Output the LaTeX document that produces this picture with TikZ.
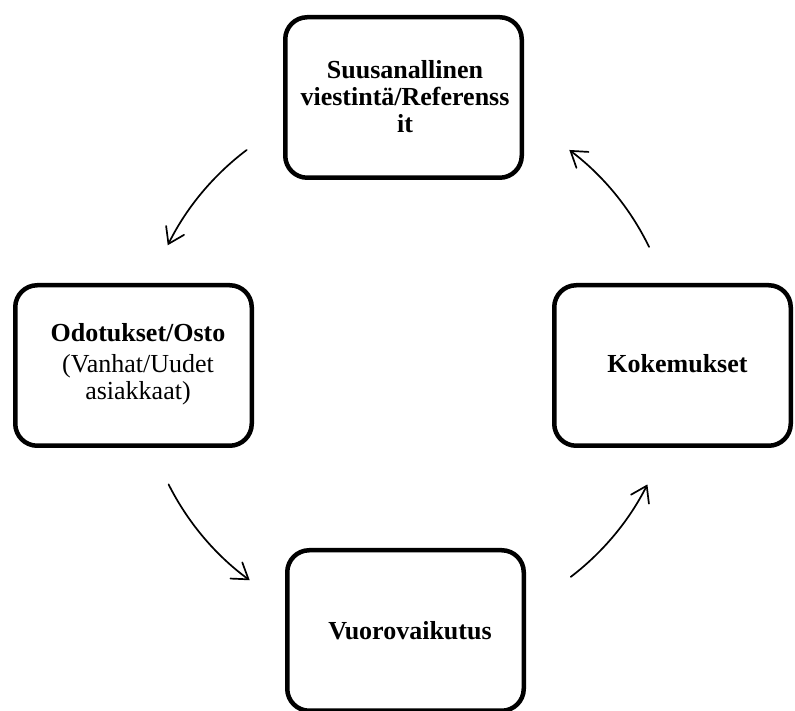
\documentclass[tikz,border=0pt]{standalone}
\usepackage{fontspec}
\setmainfont{Liberation Serif}
\usetikzlibrary{arrows.meta}
\begin{document}
\begin{tikzpicture}[x=1pt,y=1pt,
  stage/.style={draw=black, line width=4.5pt, rounded corners=22pt,
    minimum width=236.5pt, minimum height=160.5pt, inner sep=0pt},
  lbl/.style={font=\fontsize{26}{27}\selectfont\bfseries, align=center, inner sep=0pt},
  flow/.style={line width=1.7pt, line cap=round,
    -{Straight Barb[length=15pt,width=20pt,line cap=round]}}]
\useasboundingbox (0,0) rectangle (795,711);
\fill[white] (0,0) rectangle (795,711);

% the four stages of the cycle
\node[stage] (top)    at (403.5,613.5) {};
\node[stage] (left)   at (133.5,345.5) {};
\node[stage] (right)  at (672.5,345.5) {};
\node[stage] (bottom) at (405.5,80.5)  {};

\node[lbl] (topText) at ([shift={(1.5,0.5)}]top.center)
  {Suusanallinen\\viestintä/Referenss\\it};
\node[lbl] (leftText) at ([shift={(4.5,1.5)}]left.center)
  {Odotukset/Osto\\[4pt]\mdseries (Vanhat/Uudet\\\mdseries asiakkaat)};
\node[lbl] (rightText) at ([shift={(5,1.5)}]right.center) {Kokemukset};
\node[lbl] (bottomText) at ([shift={(4.5,-0.5)}]bottom.center) {Vuorovaikutus};

% circular arrows around the common centre
\coordinate (c) at (408,347);
\coordinate (a1) at ([shift={(127:268)}]c);
\coordinate (a2) at ([shift={(206.7:268)}]c);
\coordinate (a3) at ([shift={(307.4:268)}]c);
\coordinate (a4) at ([shift={(25.9:268)}]c);
\draw[flow] (a1) arc[start angle=127,   end angle=153.7, radius=268];
\draw[flow] (a2) arc[start angle=206.7, end angle=233.8, radius=268];
\draw[flow] (a3) arc[start angle=307.4, end angle=333.3, radius=268];
\draw[flow] (a4) arc[start angle=25.9,  end angle=53,    radius=268];
\end{tikzpicture}
\end{document}
